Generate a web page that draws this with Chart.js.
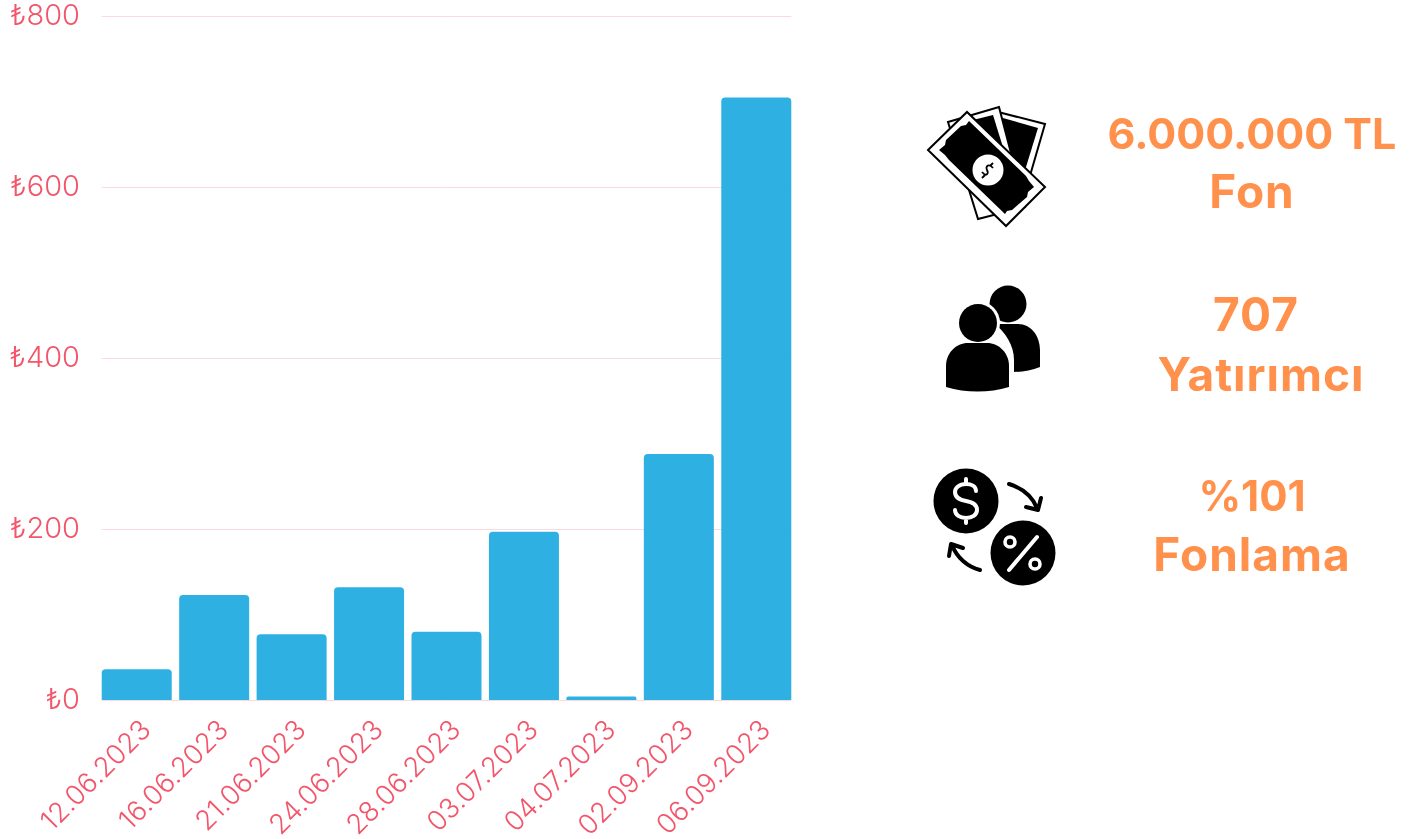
<!DOCTYPE html>
<html>
<head>
<meta charset="utf-8">
<title>Fonlama</title>
<script src="https://cdn.jsdelivr.net/npm/chart.js@4"></script>
<style>
    html, body { margin: 0; padding: 0; background: #fff; overflow: hidden; }
    #wrap { position: relative; width: 1418px; height: 839px; overflow: hidden; }
    #chart-box { position: absolute; left: 0; top: -11px; width: 800px; height: 850px; }
    #icons { position: absolute; left: 0; top: 0; }
    .stat {
        position: absolute; transform: translateX(-50%); white-space: nowrap;
        font-family: Inter, sans-serif; font-weight: 700; font-size: 43px;
        line-height: 60px; color: #ff914d; text-align: center; margin: 0;
    }
    .wide { font-size: 46px; letter-spacing: 1px; position: relative; top: -2px; }
</style>
</head>
<body>
<div id="wrap">
    <div id="chart-box"><canvas id="fund-chart"></canvas></div>

    <svg id="icons" width="1418" height="839">
        <!-- banknotes -->
        <polygon points="1000,112.5 1045,124 1020,210 975,198" fill="#fff" stroke="#000" stroke-width="2"/>
        <polygon points="1003,118 1038,128 1022,180 990,170" fill="#000"/>
        <polygon points="948,122 999,107 1025,207 978,219" fill="#fff" stroke="#000" stroke-width="2"/>
        <polygon points="957,124 993,115 1010,170 975,180" fill="#000"/>
        <polygon points="928,150 967,112 1045,187 1006,226" fill="#fff" stroke="#000" stroke-width="2"/>
        <polygon points="939,150 945,145 946,140 961,126 966,125 969,121 1026,176 1029,181 1034,187 1028,192 1027,197 1012,210 1007,211 1005,214 949,160 945,155" fill="#000"/>
        <circle cx="988" cy="170" r="15.5" fill="#fff"/>
        <path d="M993 168 C989 163 985 166 987 170 C989 174 986 177 982 172 M993 163 L990 166 M985 175 L982 178" fill="none" stroke="#000" stroke-width="1.8"/>

        <!-- investors -->
        <circle cx="1008" cy="304" r="18.5" fill="#000"/>
        <path d="M1014 372 L1014 360 C1014 345 1005 332 995 324 L1018 324 C1031 324 1040 336 1040 350 L1040 367 C1032 370 1023 372 1014 372 Z" fill="#000"/>
        <circle cx="978" cy="323" r="22" fill="#fff"/>
        <circle cx="978" cy="323" r="19" fill="#000"/>
        <path d="M946 387 L946 366 C946 353 956 343 968 343 L987 343 C999 343 1009 353 1009 366 L1009 387 C989 393 966 393 946 387 Z" fill="#000"/>

        <!-- funding -->
        <circle cx="966" cy="501" r="32.5" fill="#000"/>
        <circle cx="1023" cy="553" r="32.5" fill="#000"/>
        <path d="M976 491 C976 486 971 484 966 484 C959 484 955 488 955 492 C955 498 960 500 966 501 C972 502 977 504 977 510 C977 515 972 518 966 518 C960 518 955 515 955 510 M966 479 L966 484 M966 518 L966 523" fill="none" stroke="#fff" stroke-width="4" stroke-linecap="round"/>
        <path d="M1037 537 L1009 570" stroke="#fff" stroke-width="4" stroke-linecap="round"/>
        <circle cx="1010" cy="542" r="5" fill="none" stroke="#fff" stroke-width="3.6"/>
        <circle cx="1035" cy="564" r="5" fill="none" stroke="#fff" stroke-width="3.6"/>
        <path d="M1009 484 C1022 488 1032 496 1037 508 M1026 507 L1038 510 L1041 498" fill="none" stroke="#000" stroke-width="4" stroke-linecap="round" stroke-linejoin="round"/>
        <path d="M980 570 C968 567 957 558 952 545 M949 556 L951 544 L963 548" fill="none" stroke="#000" stroke-width="4" stroke-linecap="round" stroke-linejoin="round"/>
    </svg>

    <p class="stat" style="left:1252px;top:103px">6.000.000 TL<br><span class="wide">Fon</span></p>
    <p class="stat" style="left:1256px;top:286px"><span class="wide">707</span></p>
    <p class="stat" style="left:1261px;top:346px"><span class="wide">Yatırımcı</span></p>
    <p class="stat" style="left:1252px;top:465px"><span style="font-size:42px">%101</span><br><span class="wide">Fonlama</span></p>
</div>

<script>
// values
const dates = ['12.06.2023', '16.06.2023', '21.06.2023', '24.06.2023', '28.06.2023',
               '03.07.2023', '04.07.2023', '02.09.2023', '06.09.2023'];
const amounts = [36, 123, 77, 132, 80, 197, 4, 288, 705];
const yTicks = [0, 200, 400, 600, 800];

const labelColor = '#f2566b';
const gridColor = '#fcd8df';

// grid lines stop at the outer edges of the first and last bar
const edgeGrid = {
    id: 'edgeGrid',
    beforeDatasetsDraw(chart) {
        const { ctx, scales } = chart;
        const x0 = scales.x.getPixelForValue(0) - 35;
        const x1 = scales.x.getPixelForValue(dates.length - 1) + 35;
        ctx.save();
        ctx.strokeStyle = gridColor;
        ctx.lineWidth = 1;
        yTicks.forEach(v => {
            const y = Math.round(scales.y.getPixelForValue(v)) + 0.5;
            ctx.beginPath();
            ctx.moveTo(x0, y);
            ctx.lineTo(x1, y);
            ctx.stroke();
        });
        ctx.restore();
    }
};

new Chart(document.getElementById('fund-chart').getContext('2d'), {
    type: 'bar',
    data: {
        labels: dates,
        datasets: [{
            data: amounts,
            backgroundColor: '#2eb1e2',
            barPercentage: 0.904,
            categoryPercentage: 1,
            borderRadius: { topLeft: 4, topRight: 4, bottomLeft: 0, bottomRight: 0 },
            borderSkipped: false
        }]
    },
    plugins: [edgeGrid],
    options: {
        responsive: true,
        maintainAspectRatio: false,
        animation: false,
        layout: { padding: { top: 16, right: 5 } },
        plugins: {
            legend: { display: false },
            tooltip: { enabled: false }
        },
        scales: {
            y: {
                min: 0,
                max: 800,
                afterFit: axis => { axis.width = 98; },
                afterBuildTicks: axis => { axis.ticks = yTicks.map(v => ({ value: v })); },
                border: { display: false },
                grid: { display: false },
                ticks: {
                    color: labelColor,
                    padding: 10,
                    font: { family: 'Inter', size: 29, weight: '300' },
                    callback: value => '₺' + value
                }
            },
            x: {
                afterFit: axis => { axis.height = 139; },
                border: { display: false },
                grid: { display: false },
                ticks: {
                    color: labelColor,
                    maxRotation: 45,
                    minRotation: 45,
                    padding: 6,
                    labelOffset: 10,
                    autoSkip: false,
                    font: { family: 'Inter', size: 27.5, weight: '300' }
                }
            }
        }
    }
});
</script>
</body>
</html>
